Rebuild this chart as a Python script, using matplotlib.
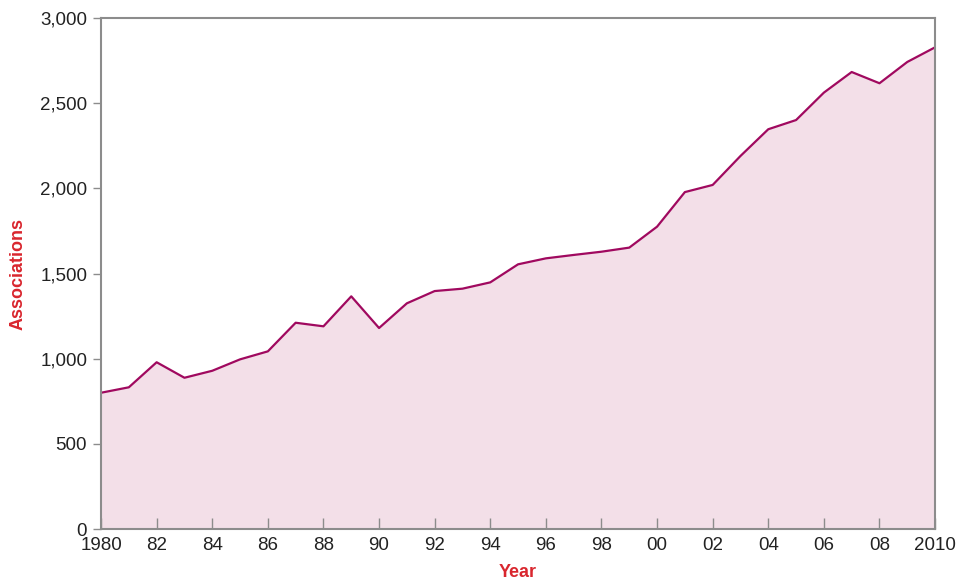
import matplotlib.pyplot as plt
import numpy as np

plt.rcParams['font.family'] = ['Liberation Sans', 'DejaVu Sans']

years = np.arange(1980, 2011)
associations = [800, 832, 979, 888, 929, 996, 1043, 1211, 1190, 1366,
                1180, 1325, 1397, 1411, 1448, 1554, 1589, 1609, 1628, 1652,
                1775, 1978, 2020, 2190, 2347, 2401, 2562, 2683, 2617, 2742,
                2828]
tick_years = np.arange(1980, 2011, 2)
tick_labels = ['1980', '82', '84', '86', '88', '90', '92', '94', '96', '98',
               '00', '02', '04', '06', '08', '2010']

line_color = '#A0095F'
fill_color = '#F3DFE8'
label_color = '#D9262E'
spine_color = '#8C8C8C'

fig = plt.figure(figsize=(9.66, 5.83), dpi=100)
ax = fig.add_axes([0.1046, 0.0926, 0.8634, 0.8765])

ax.fill_between(years, associations, 0, color=fill_color, linewidth=0)
ax.plot(years, associations, color=line_color, linewidth=1.6)

ax.set_xlim(1980, 2010)
ax.set_ylim(0, 3000)
ax.set_xticks(tick_years)
ax.set_xticklabels(tick_labels)
ax.set_yticks(np.arange(0, 3001, 500))
ax.set_yticklabels([f'{v:,}' for v in range(0, 3001, 500)])

ax.tick_params(axis='x', direction='in', length=8, width=1, color=spine_color,
               labelsize=13.5, pad=6, labelcolor='#222222')
ax.tick_params(axis='y', direction='out', length=6, width=1, color=spine_color,
               labelsize=13.5, pad=4, labelcolor='#222222')
for s in ax.spines.values():
    s.set_color(spine_color)
    s.set_linewidth(1.5)

ax.set_xlabel('Year', color=label_color, fontsize=13, fontweight='bold', labelpad=7)
ax.set_ylabel('Associations', color=label_color, fontsize=13, fontweight='bold', labelpad=10)

fig.savefig('out.png', dpi=100)
